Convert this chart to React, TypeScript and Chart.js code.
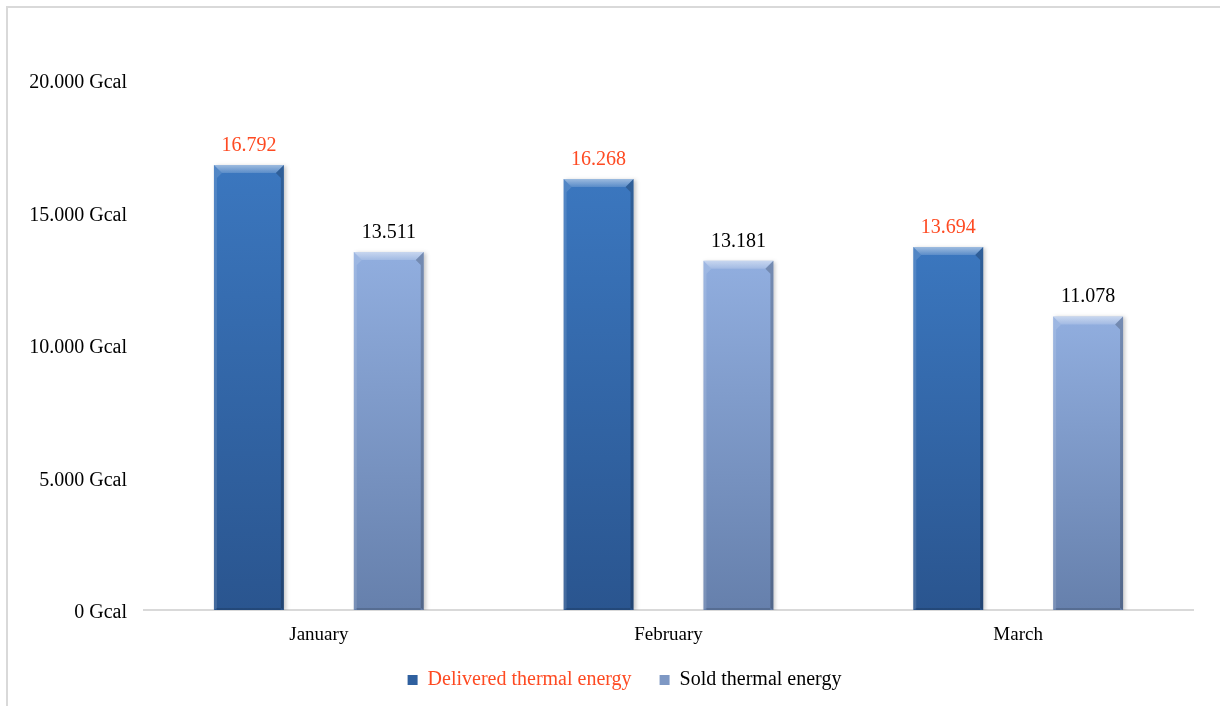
import React, { useEffect, useRef } from "react";
import { Chart, registerables } from "chart.js";

Chart.register(...registerables);

// Monthly thermal energy, in Gcal
const months = ["January", "February", "March"];
const deliveredEnergy = [16792, 16268, 13694];
const soldEnergy = [13511, 13181, 11078];
const seriesNames = ["Delivered thermal energy", "Sold thermal energy"];
const yAxisMax = 20000;
const yAxisStep = 5000;

const SERIF = '"Liberation Serif", "Times New Roman", serif';
const RED = "#fe4a22";

// gradient stops per series: [top, bottom]
const barGradients: [string, string][] = [
  ["#3b77bf", "#2a558f"],
  ["#91aedf", "#6680ac"],
];
const legendFills = ["#2f609f", "#7e98c4"];
const labelColors = [RED, "#000000"];

// nudge of the legend row (px)
const LEGEND_SHIFT_X = 28;
const LEGEND_SHIFT_Y = -6;

const fmt = (n: number) => String(n).replace(/\B(?=(\d{3})+(?!\d))/g, ".");

function barFill(index: number) {
  return (c: any) => {
    const chart = c.chart;
    const yScale = chart.scales?.y;
    const [top, bottom] = barGradients[index];
    if (!yScale || c.raw == null) return top;
    const yTop = yScale.getPixelForValue(c.raw);
    const yBase = yScale.getPixelForValue(0);
    const g = chart.ctx.createLinearGradient(0, yTop, 0, yBase);
    g.addColorStop(0, top);
    g.addColorStop(1, bottom);
    return g;
  };
}

const framePlugin = {
  id: "frame",
  afterLayout(chart: any) {
    const lg = chart.legend;
    if (lg) {
      lg.left += LEGEND_SHIFT_X;
      lg.right += LEGEND_SHIFT_X;
      lg.top += LEGEND_SHIFT_Y;
      lg.bottom += LEGEND_SHIFT_Y;
    }
  },
  beforeDraw(chart: any) {
    const ctx = chart.ctx;
    ctx.save();
    ctx.fillStyle = "#ffffff";
    ctx.fillRect(0, 0, chart.width, chart.height);
    ctx.strokeStyle = "#d9d9d9";
    ctx.lineWidth = 2;
    ctx.strokeRect(7, 7, chart.width + 100, chart.height + 100);
    ctx.restore();
  },
};

// soft shadow under bars, bevelled edges and value labels on top
const barStylePlugin = {
  id: "barStyle",
  beforeDatasetsDraw(chart: any) {
    const ctx = chart.ctx;
    ctx.save();
    ctx.shadowColor = "rgba(0,0,0,0.22)";
    ctx.shadowBlur = 4;
    ctx.shadowOffsetX = 2;
    ctx.shadowOffsetY = 1;
  },
  afterDatasetsDraw(chart: any) {
    const ctx = chart.ctx;
    ctx.restore();
    chart.data.datasets.forEach((ds: any, di: number) => {
      const meta = chart.getDatasetMeta(di);
      meta.data.forEach((bar: any, i: number) => {
        const { x, y, base, width } = bar.getProps(["x", "y", "base", "width"], true);
        const x0 = x - width / 2;
        const x1 = x + width / 2;
        const d = 8;
        ctx.save();
        // top bevel
        const tg = ctx.createLinearGradient(0, y, 0, y + d);
        tg.addColorStop(0, "rgba(255,255,255,0.5)");
        tg.addColorStop(1, "rgba(255,255,255,0.16)");
        ctx.fillStyle = tg;
        ctx.beginPath();
        ctx.moveTo(x0, y);
        ctx.lineTo(x1, y);
        ctx.lineTo(x1 - d, y + d);
        ctx.lineTo(x0 + d, y + d);
        ctx.closePath();
        ctx.fill();
        // left bevel
        ctx.fillStyle = "rgba(255,255,255,0.12)";
        ctx.beginPath();
        ctx.moveTo(x0, y);
        ctx.lineTo(x0 + d, y + d);
        ctx.lineTo(x0 + 3, y + d + 5);
        ctx.lineTo(x0 + 3, base - 2);
        ctx.lineTo(x0, base);
        ctx.closePath();
        ctx.fill();
        // right bevel
        ctx.fillStyle = "rgba(0,0,0,0.2)";
        ctx.beginPath();
        ctx.moveTo(x1, y);
        ctx.lineTo(x1 - d, y + d);
        ctx.lineTo(x1 - 3, y + d + 5);
        ctx.lineTo(x1 - 3, base - 2);
        ctx.lineTo(x1, base);
        ctx.closePath();
        ctx.fill();
        // bottom bevel
        ctx.fillStyle = "rgba(0,0,0,0.15)";
        ctx.fillRect(x0 + 3, base - 2, width - 6, 2);
        // value label
        ctx.fillStyle = labelColors[di];
        ctx.font = `20px ${SERIF}`;
        ctx.textAlign = "center";
        ctx.textBaseline = "alphabetic";
        ctx.fillText(fmt(ds.data[i]), x, y - 14);
        ctx.restore();
      });
    });
  },
};

export default function App() {
  const canvasRef = useRef<HTMLCanvasElement | null>(null);

  useEffect(() => {
    const canvas = canvasRef.current;
    if (!canvas) return;
    const chart = new Chart(canvas, {
      type: "bar",
      data: {
        labels: months,
        datasets: [
          {
            label: seriesNames[0],
            data: deliveredEnergy,
            backgroundColor: barFill(0),
            borderWidth: 0,
            categoryPercentage: 0.8,
            barPercentage: 0.5,
          },
          {
            label: seriesNames[1],
            data: soldEnergy,
            backgroundColor: barFill(1),
            borderWidth: 0,
            categoryPercentage: 0.8,
            barPercentage: 0.5,
          },
        ],
      },
      options: {
        responsive: false,
        animation: false,
        devicePixelRatio: 1,
        layout: { padding: { top: 80, left: 0, right: 27, bottom: 0 } },
        scales: {
          x: {
            grid: { display: false, drawTicks: false },
            border: { display: true, color: "#d9d9d9", width: 2 },
            ticks: { color: "#000", padding: 14, font: { family: SERIF, size: 19 } },
            afterFit: (s: any) => {
              s.height = 38;
            },
          },
          y: {
            min: 0,
            max: yAxisMax,
            grid: { display: false, drawTicks: false },
            border: { display: false },
            ticks: {
              stepSize: yAxisStep,
              color: "#000",
              padding: 17,
              labelOffset: 3,
              font: { family: SERIF, size: 20 },
              callback: (v: any) => `${fmt(Number(v))} Gcal`,
            },
            afterFit: (s: any) => {
              s.width = 144;
            },
          },
        },
        plugins: {
          tooltip: { enabled: false },
          legend: {
            position: "bottom",
            labels: {
              boxWidth: 10,
              boxHeight: 10,
              padding: 28,
              font: { family: SERIF, size: 20 },
              generateLabels: () =>
                seriesNames.map((name, i) => ({
                  text: name,
                  fillStyle: legendFills[i],
                  strokeStyle: legendFills[i],
                  lineWidth: 0,
                  fontColor: labelColors[i],
                  hidden: false,
                  datasetIndex: i,
                })),
            },
          },
        },
      },
      plugins: [framePlugin, barStylePlugin],
    });
    return () => chart.destroy();
  }, []);

  return (
    <div style={{ position: "absolute", left: 0, top: 0, width: 1220, height: 706 }}>
      <canvas ref={canvasRef} width={1220} height={706} style={{ width: 1220, height: 706, display: "block" }} />
    </div>
  );
}
